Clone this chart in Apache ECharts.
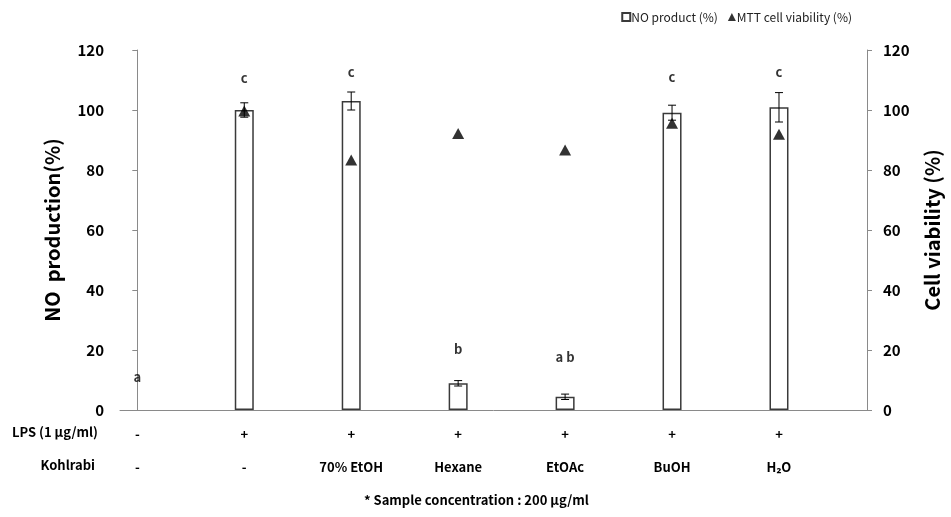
<!DOCTYPE html>
<html>
<head>
<meta charset="utf-8">
<script src="https://cdn.jsdelivr.net/npm/echarts@6/dist/echarts.min.js"></script>
<style>
  html, body { margin: 0; padding: 0; background: #fff; }
  #chart { width: 951px; height: 517px; }
</style>
</head>
<body>
<div id="chart"></div>
<script>
// rows of the treatment table under the x axis
var lpsRow = ["-", "+", "+", "+", "+", "+", "+"];
var kohlrabiRow = ["-", "-", "70% EtOH", "Hexane", "EtOAc", "BuOH", "H\u2082O"];

// NO production (%) with error, MTT cell viability (%)
var noValues = [null, 100, 103, 8.9, 4.4, 99.1, 100.9];
var noErrors = [null, 2.4, 3.0, 0.9, 0.9, 2.5, 4.9];
var mttValues = [null, 99.7, 83.3, 92.2, 86.7, 95.6, 91.9];

// significance letters and the height they sit at
var sigLetters = ["a", "c", "c", "b", "a b", "c", "c"];
var sigHeights = [11, 110.7, 112.7, 20.3, 17.7, 111, 112.7];

var yTicks = [0, 20, 40, 60, 80, 100, 120];

var FONT = "'Noto Sans CJK KR', 'Noto Sans', sans-serif";
var AXIS_GRAY = "#8a8a8a";

var chart = echarts.init(document.getElementById("chart"));

var barData = noValues.map(function (v, i) { return v == null ? null : [i, v]; }).filter(Boolean);
var errData = noValues.map(function (v, i) { return v == null ? null : [i, v, noErrors[i]]; }).filter(Boolean);
var mttData = mttValues.map(function (v, i) { return v == null ? null : [i, v]; }).filter(Boolean);
var sigData = sigLetters.map(function (s, i) { return [i, sigHeights[i]]; });

function yAxisBase(pos, name, gap) {
  return {
    type: "value",
    position: pos,
    min: yTicks[0],
    max: yTicks[yTicks.length - 1],
    interval: 20,
    name: name,
    nameLocation: "middle",
    nameGap: gap,
    nameTextStyle: { fontFamily: FONT, fontWeight: "bold", fontSize: 20, color: "#000" },
    axisLine: { show: true, lineStyle: { color: AXIS_GRAY, width: 1 } },
    axisTick: { show: true, length: 5, lineStyle: { color: AXIS_GRAY } },
    axisLabel: { margin: 16, fontFamily: FONT, fontWeight: "bold", fontSize: 15, color: "#000" },
    splitLine: { show: false }
  };
}

var option = {
  animation: false,
  backgroundColor: "#fff",
  legend: {
    top: 6,
    right: 94,
    itemWidth: 8,
    itemHeight: 8,
    itemGap: 10,
    textStyle: { fontFamily: FONT, fontSize: 12, color: "#222", padding: [0, 0, 0, -4] },
    data: [
      { name: "NO product (%)", icon: "rect" },
      { name: "MTT cell viability (%)", icon: "triangle" }
    ]
  },
  grid: { left: 120, right: 84, top: 50, bottom: 107 },
  xAxis: {
    type: "value",
    min: -0.162,
    max: 6.823,
    axisLine: { show: true, lineStyle: { color: AXIS_GRAY, width: 1 } },
    axisTick: { show: false },
    splitLine: { show: false },
    axisLabel: {
      customValues: [0, 1, 2, 3, 4, 5, 6],
      margin: 8,
      formatter: function (v) {
        var i = Math.round(v);
        return "{k|" + lpsRow[i] + "}\n{k|" + kohlrabiRow[i] + "}";
      },
      rich: {
        k: { fontFamily: FONT, fontWeight: "bold", fontSize: 13, color: "#000", lineHeight: 33 }
      }
    }
  },
  yAxis: [
    yAxisBase("left", "NO  production(%)", 58),
    yAxisBase("right", "Cell viability (%)", 55)
  ],
  graphic: [
    {
      type: "text", right: 853, top: 426,
      style: { text: "LPS (1 \u03bcg/ml)", fontFamily: FONT, fontWeight: "bold", fontSize: 13, fill: "#000" }
    },
    {
      type: "text", right: 856, top: 459,
      style: { text: "Kohlrabi", fontFamily: FONT, fontWeight: "bold", fontSize: 13, fill: "#000" }
    },
    {
      type: "text", left: 364, top: 494,
      style: { text: "* Sample concentration : 200 \u03bcg/ml", fontFamily: FONT, fontWeight: "bold", fontSize: 13, fill: "#000" }
    }
  ],
  series: [
    {
      name: "NO product (%)",
      type: "bar",
      yAxisIndex: 0,
      barWidth: 19,
      data: barData,
      itemStyle: { color: "#fff", borderColor: "#3a3a3a", borderWidth: 1.5 },
      z: 2
    },
    {
      name: "error",
      type: "custom",
      yAxisIndex: 0,
      data: errData,
      z: 3,
      renderItem: function (params, api) {
        var x = api.value(0), v = api.value(1), e = api.value(2);
        var top = api.coord([x, v + e]);
        var bot = api.coord([x, v - e]);
        var cap = 4;
        var st = { stroke: "#000", lineWidth: 1 };
        return {
          type: "group",
          children: [
            { type: "line", shape: { x1: top[0], y1: top[1], x2: bot[0], y2: bot[1] }, style: st },
            { type: "line", shape: { x1: top[0] - cap, y1: top[1], x2: top[0] + cap, y2: top[1] }, style: st },
            { type: "line", shape: { x1: bot[0] - cap, y1: bot[1], x2: bot[0] + cap, y2: bot[1] }, style: st }
          ]
        };
      }
    },
    {
      name: "MTT cell viability (%)",
      type: "scatter",
      yAxisIndex: 1,
      symbol: "triangle",
      symbolSize: [12, 11],
      data: mttData,
      itemStyle: { color: "#000" },
      z: 4
    },
    {
      name: "letters",
      type: "scatter",
      yAxisIndex: 0,
      symbolSize: 1,
      data: sigData,
      itemStyle: { color: "rgba(0,0,0,0)" },
      label: {
        show: true,
        position: "inside",
        formatter: function (p) { return sigLetters[p.dataIndex]; },
        fontFamily: FONT,
        fontWeight: "bold",
        fontSize: 13,
        color: "#000"
      },
      z: 5
    }
  ]
};

chart.setOption(option);
</script>
</body>
</html>
